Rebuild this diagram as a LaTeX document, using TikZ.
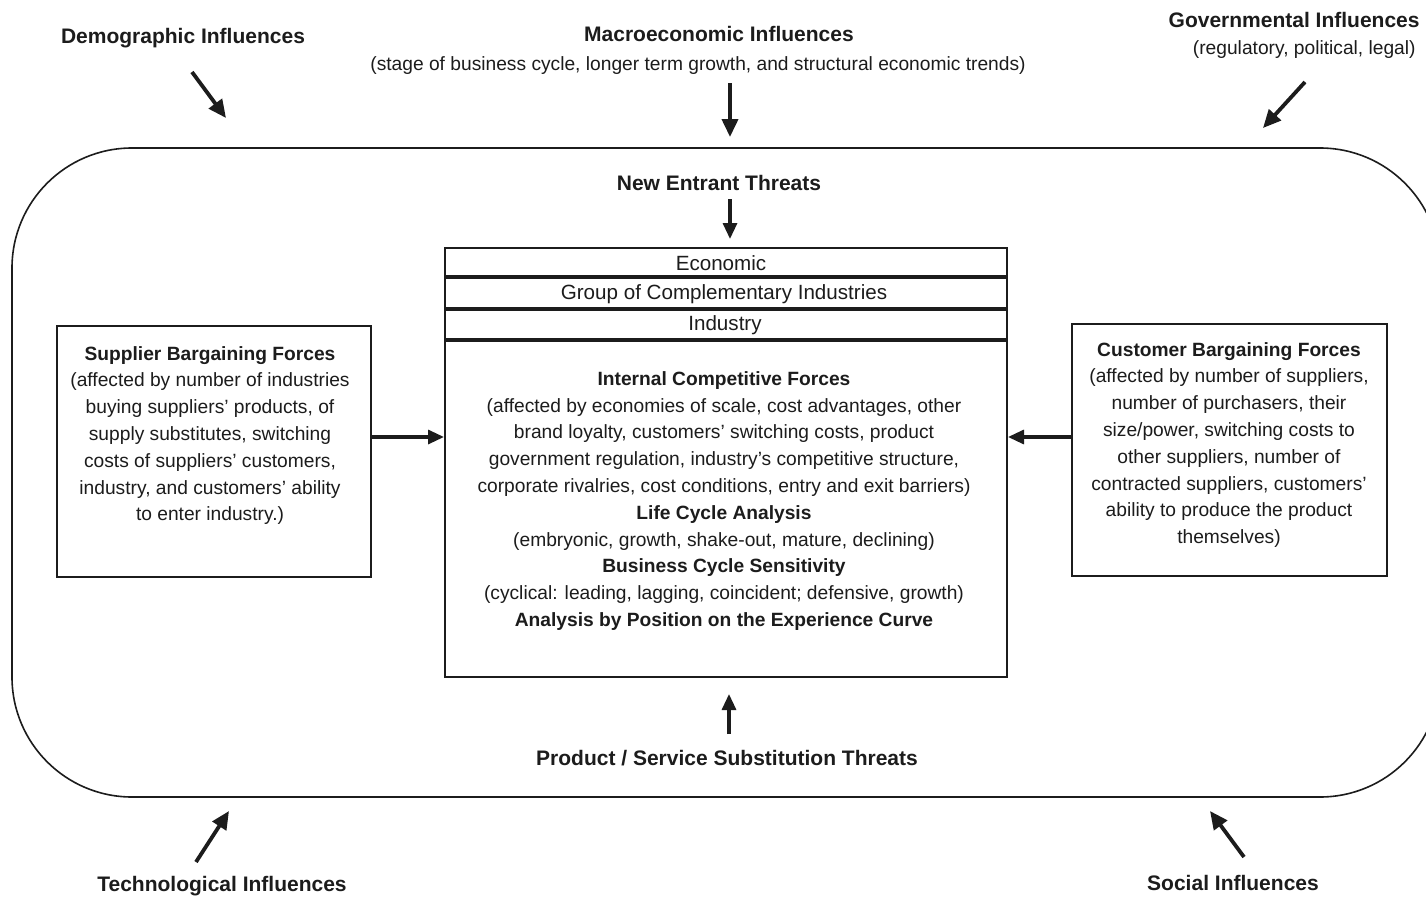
\documentclass[tikz,border=0pt]{standalone}
\usepackage{fontspec}
\setmainfont{Liberation Sans}
\usetikzlibrary{arrows.meta,fit}
\definecolor{ink}{HTML}{1C1C1C}
\begin{document}
\begin{tikzpicture}[x=0.5pt,y=-0.5pt,
  lbl/.style={text=ink, font=\bfseries\fontsize{10.5}{13}\selectfont, inner sep=0pt},
  sub/.style={text=ink, font=\fontsize{9.6}{13.4}\selectfont, inner sep=0pt},
  body/.style={text=ink, font=\fontsize{9.6}{13.4}\selectfont, align=center, inner sep=0pt},
  rowlbl/.style={text=ink, font=\fontsize{10.3}{12}\selectfont, inner sep=0pt},
  frame/.style={draw=ink, line width=1pt, inner sep=0pt},
  sep/.style={draw=ink, line width=2pt},
  infl/.style={draw=ink, line width=1.9pt, -{Triangle[length=9pt,width=8pt]}},
  force/.style={draw=ink, line width=1.6pt, -{Triangle[length=8pt,width=7pt]}},
]
\useasboundingbox (0,0) rectangle (1426,900);
\fill[white] (0,0) rectangle (1426,900);

% industry environment frame, running off the right edge
\begin{scope}
  \clip (0,0) rectangle (1426,900);
  \draw[ink, line width=0.8pt, rounded corners=60pt] (12,148) rectangle (1440,797);
\end{scope}

% outside influences
\node[lbl] (demo) at (183,38) {Demographic Influences};
\node[lbl] (macro) at (719,34) {Macroeconomic Influences};
\node[sub] (macrosub) at (698,66) {(stage of business cycle, longer term growth, and structural economic trends)};
\node[lbl, anchor=east] (gov) at (1420,20) {Governmental Influences};
\node[sub, anchor=east] (govsub) at (1416,50) {(regulatory, political, legal)};
\node[lbl] (tech) at (222,886) {Technological Influences};
\node[lbl] (social) at (1233,883) {Social Influences};

\coordinate (demo-a) at (192,72);    \coordinate (demo-b) at (226,118);
\coordinate (macro-a) at (730,83);   \coordinate (macro-b) at (730,137);
\coordinate (gov-a) at (1305,82);    \coordinate (gov-b) at (1263,128);
\coordinate (tech-a) at (196,862);   \coordinate (tech-b) at (229,811);
\coordinate (social-a) at (1244,857);\coordinate (social-b) at (1210,811);
\draw[infl] (demo-a) -- (demo-b);
\draw[infl] (macro-a) -- (macro-b);
\draw[infl] (gov-a) -- (gov-b);
\draw[infl] (tech-a) -- (tech-b);
\draw[infl] (social-a) -- (social-b);

% threats
\node[lbl] (entrant) at (719,183) {New Entrant Threats};
\node[lbl] (subst) at (727,758) {Product / Service Substitution Threats};

% central analysis box with its three header rows
\node[frame, fit={(445,248) (1007,677)}] (core) {};
\node[frame, fit={(445,248) (1007,276)}] (econ) {};
\node[frame, fit={(445,277) (1007,308)}] (group) {};
\node[frame, fit={(445,308) (1007,339)}] (industry) {};
\draw[sep] (econ.south west) -- (econ.south east);
\draw[sep] (group.south west) -- (group.south east);
\draw[sep] (industry.south west) -- (industry.south east);
\node[rowlbl] (econtext) at (721,263) {Economic};
\node[rowlbl] (grouptext) at (724,294) {Group of Complementary Industries};
\node[rowlbl] (industrytext) at (725,325) {Industry};

\node[body] (coretext) at (724,501) {\textbf{Internal Competitive Forces}\\
(affected by economies of scale, cost advantages, other\\
brand loyalty, customers’ switching costs, product\\
government regulation, industry’s competitive structure,\\
corporate rivalries, cost conditions, entry and exit barriers)\\
\textbf{Life Cycle Analysis}\\
(embryonic, growth, shake-out, mature, declining)\\
\textbf{Business Cycle Sensitivity}\\
(cyclical: leading, lagging, coincident; defensive, growth)\\
\textbf{Analysis by Position on the Experience Curve}};

% bargaining forces
\node[frame, fit={(57,326) (371,577)}] (supplier) {};
\node[body] (suppliertext) at (210,435.5) {\textbf{Supplier Bargaining Forces}\\
(affected by number of industries\\
buying suppliers’ products, of\\
supply substitutes, switching\\
costs of suppliers’ customers,\\
industry, and customers’ ability\\
to enter industry.)};

\node[frame, fit={(1072,324) (1387,576)}] (customer) {};
\node[body] (customertext) at (1229,445) {\textbf{Customer Bargaining Forces}\\
(affected by number of suppliers,\\
number of purchasers, their\\
size/power, switching costs to\\
other suppliers, number of\\
contracted suppliers, customers’\\
ability to produce the product\\
themselves)};

% connectors into the central box
\coordinate (lvl) at (0,437);
\draw[force] (supplier.east |- lvl) -- (core.west |- lvl);
\draw[force] (customer.west |- lvl) -- (core.east |- lvl);
\coordinate (entrant-tail) at (730,199);
\draw[force, shorten >=4pt] (entrant-tail) -- (econ.north -| entrant-tail);
\coordinate (subst-tail) at (729,734);
\draw[force, shorten >=8pt] (subst-tail) -- (core.south -| subst-tail);
\end{tikzpicture}
\end{document}
